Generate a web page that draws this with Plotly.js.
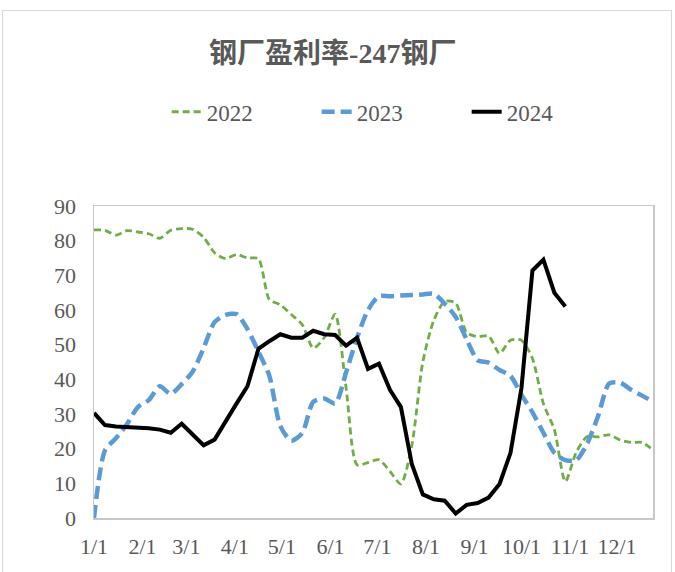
<!DOCTYPE html>
<html>
<head>
<meta charset="utf-8">
<script src="https://cdn.plot.ly/plotly-3.0.1.min.js"></script>
<style>
  html, body { margin: 0; padding: 0; background: #ffffff; }
  #wrap { position: relative; width: 675px; height: 572px; }
  #chart { width: 675px; height: 572px; }
  #frame { position: absolute; left: 2px; top: 10px; width: 670px; height: 580px;
           border: 1.5px solid #d9d9d9; pointer-events: none; box-sizing: border-box; }
</style>
</head>
<body>
<div id="wrap">
  <div id="chart"></div>
  <div id="frame"></div>
</div>
<script>
// Weekly dates (month-day), shared by all three years on one Jan–Dec axis
const weeks = ["01-01","01-08","01-15","01-22","01-29","02-05","02-12","02-19","02-26","03-05",
               "03-12","03-19","03-26","04-02","04-09","04-16","04-23","04-30","05-07","05-14",
               "05-21","05-28","06-04","06-11","06-18","06-25","07-02","07-09","07-16","07-23",
               "07-30","08-06","08-13","08-20","08-27","09-03","09-10","09-17","09-24","10-01",
               "10-08","10-15","10-22","10-29","11-05","11-12","11-19","11-26","12-03","12-10",
               "12-17","12-24"];

const seriesNames = ["2022", "2023", "2024"];

// 钢厂盈利率 (%) — 2022
const y2022 = [83.1, 83.0, 81.6, 82.9, 82.5, 82.0, 80.7, 83.0, 83.5, 83.3,
               81.0, 76.5, 74.8, 76.0, 75.0, 74.8, 63.0, 61.5, 58.7, 55.8,
               49.0, 52.0, 58.8, 37.5, 15.3, 16.0, 16.8, 13.5, 9.8, 21.0,
               45.0, 57.0, 62.5, 62.0, 53.5, 52.3, 52.5, 47.5, 51.3, 51.3,
               46.0, 33.0, 25.5, 10.5, 19.0, 23.5, 23.4, 24.0, 22.5, 21.8,
               21.8, 19.6];

// 2023
const y2023 = [0.0, 19.5, 23.0, 27.0, 32.0, 34.0, 38.0, 35.8, 38.6, 42.2,
               49.0, 56.5, 58.6, 58.8, 54.5, 48.0, 41.0, 26.5, 22.3, 24.5,
               33.5, 34.5, 33.0, 42.0, 52.0, 60.0, 64.0, 64.0, 64.2, 64.3,
               64.5, 64.7, 61.8, 58.0, 51.5, 45.5, 44.8, 42.7, 41.0, 35.5,
               30.5, 24.6, 18.8, 16.7, 16.7, 21.5, 29.5, 38.8, 39.0, 37.0,
               35.3, 33.6];

// 2024
const y2024 = [30.3, 26.8, 26.4, 26.3, 26.0, 25.9, 25.5, 24.6, 27.2, 24.0,
               21.0, 22.6, 28.0, 33.0, 38.0, 48.8, 51.0, 53.0, 52.0, 52.0,
               54.0, 53.0, 52.8, 49.7, 52.0, 43.0, 44.5, 37.0, 32.0, 15.5,
               6.8, 5.4, 5.0, 1.3, 3.8, 4.3, 5.9, 9.8, 18.8, 37.5,
               71.4, 74.5, 65.0, 61.0];

const axisYear = "2023";
const toDates = (vals) => vals.map((v, i) => axisYear + "-" + weeks[i]);

const serif = "'Liberation Serif', 'Times New Roman', 'Noto Sans CJK SC', serif";
const textColor = "#595959";

const traces = [
  { x: toDates(y2022), y: y2022, name: seriesNames[0], type: "scatter", mode: "lines",
    line: { color: "#70AD47", width: 2.8, dash: "7px,4px", shape: "spline", smoothing: 0.7 } },
  { x: toDates(y2023), y: y2023, name: seriesNames[1], type: "scatter", mode: "lines",
    line: { color: "#5B9BD5", width: 4.5, dash: "13px,6px", shape: "spline", smoothing: 0.7 } },
  { x: toDates(y2024), y: y2024, name: seriesNames[2], type: "scatter", mode: "lines",
    line: { color: "#000000", width: 4, shape: "linear" } }
];

const layout = {
  width: 675, height: 572,
  margin: { l: 94, r: 22, t: 206, b: 54 },
  paper_bgcolor: "#ffffff", plot_bgcolor: "#ffffff",
  font: { family: serif, color: textColor, size: 22 },
  title: {
    text: "<b>钢厂盈利率-247钢厂</b>",
    font: { family: "'Liberation Serif', 'Noto Sans CJK SC', serif", size: 28, color: textColor },
    x: 0.493, xref: "container", xanchor: "center",
    y: 0.907, yref: "container", yanchor: "middle"
  },
  showlegend: true,
  legend: {
    orientation: "h", x: 0.130, xanchor: "left", y: 1.302, yanchor: "middle",
    font: { family: serif, size: 23, color: textColor },
    entrywidth: 105, entrywidthmode: "pixels", traceorder: "normal"
  },
  xaxis: {
    type: "date",
    range: [axisYear + "-01-01", axisYear + "-12-24"],
    dtick: "M1", tick0: axisYear + "-01-01",
    tickformat: "%-m/%-d",
    showgrid: false, zeroline: false,
    showline: true, linecolor: "#c8c8c8", linewidth: 1.5, mirror: true,
    ticks: "", ticklabelstandoff: 8,
    tickfont: { family: serif, size: 22, color: textColor }
  },
  yaxis: {
    range: [0, 90], dtick: 10, tick0: 0,
    showgrid: false, zeroline: false,
    showline: true, linecolor: "#c8c8c8", linewidth: 1.5, mirror: true,
    ticks: "", ticklabelstandoff: 12,
    tickfont: { family: serif, size: 22, color: textColor }
  }
};

Plotly.newPlot("chart", traces, layout, { displayModeBar: false, staticPlot: true });
</script>
</body>
</html>
